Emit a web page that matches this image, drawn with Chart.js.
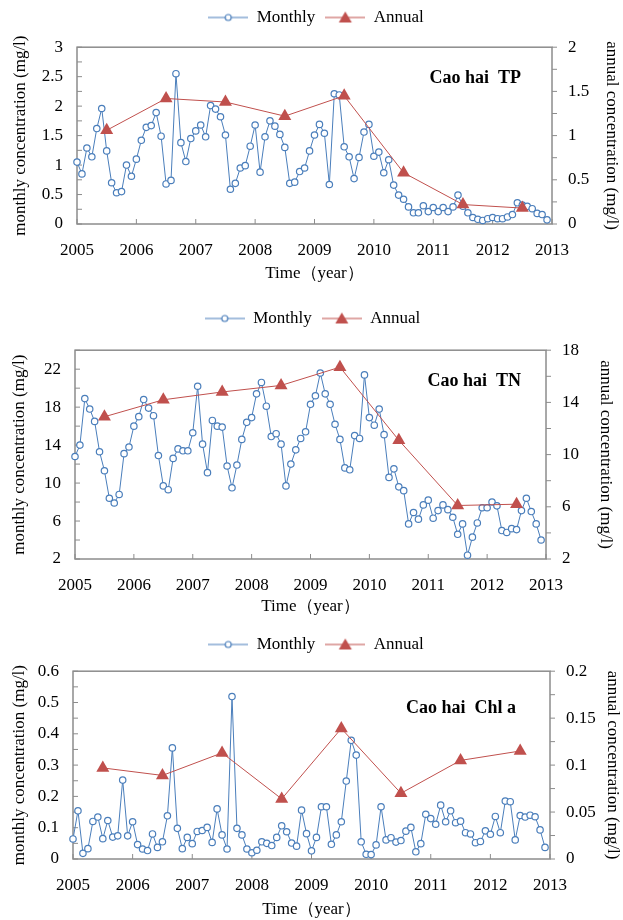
<!DOCTYPE html>
<html>
<head>
<meta charset="utf-8">
<script src="https://cdn.jsdelivr.net/npm/chart.js@4.4.1/dist/chart.umd.min.js"></script>
<style>
  html, body { margin: 0; padding: 0; background: #fff; overflow: hidden; width: 623px; height: 920px; }
  body { position: relative; }
  .box { position: absolute; left: 0; width: 640px; }
  #box1 { top: -1px; height: 289px; }
  #box2 { top: 300px; height: 321px; }
  #box3 { top: 626px; height: 298px; }
</style>
</head>
<body>
<div class="box" id="box1"><canvas id="tpChart"></canvas></div>
<div class="box" id="box2"><canvas id="tnChart"></canvas></div>
<div class="box" id="box3"><canvas id="chlChart"></canvas></div>
<script>
// Cao hai monitoring, monthly Jan 2005 - Dec 2012 + annual means
const startYear = 2005;
const years = [2005, 2006, 2007, 2008, 2009, 2010, 2011, 2012, 2013];
const annualYears = [2005.5, 2006.5, 2007.5, 2008.5, 2009.5, 2010.5, 2011.5, 2012.5];

// TP (mg/l)
const tpMonthly = [
    1.05, 0.85, 1.29, 1.14, 1.62, 1.96, 1.24, 0.70, 0.53, 0.55, 1.00, 0.81,
    1.10, 1.42, 1.64, 1.67, 1.89, 1.49, 0.68, 0.74, 2.55, 1.38, 1.06, 1.45,
    1.58, 1.68, 1.48, 2.01, 1.95, 1.82, 1.51, 0.59, 0.69, 0.95, 0.99, 1.32,
    1.68, 0.88, 1.48, 1.75, 1.66, 1.52, 1.30, 0.69, 0.71, 0.89, 0.95, 1.24,
    1.51, 1.69, 1.54, 0.67, 2.21, 2.19, 1.31, 1.14, 0.77, 1.13, 1.56, 1.69,
    1.15, 1.22, 0.87, 1.09, 0.66, 0.49, 0.42, 0.29, 0.19, 0.19, 0.31, 0.21,
    0.28, 0.21, 0.28, 0.21, 0.29, 0.49, 0.30, 0.19, 0.11, 0.08, 0.06, 0.09,
    0.11, 0.09, 0.09, 0.12, 0.16, 0.36, 0.32, 0.30, 0.26, 0.18, 0.16, 0.07
];
const tpAnnual = [1.06, 1.42, 1.38, 1.22, 1.45, 0.58, 0.22, 0.18];
const tpLeftTicks = [0, 0.5, 1, 1.5, 2, 2.5, 3];
const tpRightTicks = [0, 0.5, 1, 1.5, 2];

// TN (mg/l)
const tnMonthly = [
    12.8, 14.0, 18.9, 17.8, 16.5, 13.3, 11.3, 8.4, 7.9, 8.8, 13.1, 13.8,
    16.0, 17.0, 18.8, 17.9, 17.1, 12.9, 9.7, 9.3, 12.6, 13.6, 13.4, 13.4,
    15.3, 20.2, 14.1, 11.1, 16.6, 16.0, 15.9, 11.8, 9.5, 11.9, 14.6, 16.4,
    16.9, 19.4, 20.6, 18.1, 14.9, 15.2, 14.1, 9.7, 12.0, 13.5, 14.7, 15.4,
    18.3, 19.2, 21.6, 19.4, 18.3, 16.2, 14.6, 11.6, 11.4, 15.0, 14.7, 21.4,
    16.9, 16.1, 17.8, 15.1, 10.6, 11.5, 9.6, 9.2, 5.7, 6.9, 6.2, 7.7,
    8.2, 6.3, 7.1, 7.7, 7.2, 6.4, 4.6, 5.7, 2.4, 4.3, 5.8, 7.4,
    7.4, 8.0, 7.6, 5.0, 4.8, 5.2, 5.1, 7.1, 8.4, 7.0, 5.7, 4.0
];
const tnAnnual = [12.9, 14.2, 14.8, 15.3, 16.7, 11.1, 6.1, 6.2];
const tnLeftTicks = [2, 6, 10, 14, 18, 22];
const tnRightTicks = [2, 6, 10, 14, 18];

// Chl a (mg/l)
const chlMonthly = [
    0.064, 0.154, 0.018, 0.033, 0.120, 0.134, 0.065, 0.123, 0.070, 0.074, 0.252, 0.074,
    0.119, 0.046, 0.032, 0.027, 0.080, 0.037, 0.055, 0.138, 0.355, 0.098, 0.033, 0.069,
    0.049, 0.088, 0.091, 0.101, 0.053, 0.160, 0.077, 0.032, 0.519, 0.098, 0.077, 0.032,
    0.020, 0.028, 0.055, 0.050, 0.043, 0.069, 0.106, 0.087, 0.051, 0.041, 0.156, 0.081,
    0.026, 0.069, 0.167, 0.167, 0.047, 0.077, 0.119, 0.249, 0.379, 0.332, 0.055, 0.015,
    0.014, 0.045, 0.167, 0.061, 0.068, 0.054, 0.059, 0.089, 0.101, 0.023, 0.049, 0.143,
    0.129, 0.111, 0.172, 0.119, 0.154, 0.116, 0.121, 0.084, 0.080, 0.052, 0.056, 0.090,
    0.079, 0.136, 0.084, 0.185, 0.183, 0.061, 0.139, 0.134, 0.140, 0.135, 0.093, 0.037
];
const chlAnnual = [0.097, 0.089, 0.113, 0.064, 0.139, 0.070, 0.105, 0.115];
const chlLeftTicks = [0, 0.1, 0.2, 0.3, 0.4, 0.5, 0.6];
const chlRightTicks = [0, 0.05, 0.1, 0.15, 0.2];

const FONT = "'Times New Roman', 'Liberation Serif', serif";
const BLUE = '#4a7ebb';
const RED = '#c0504d';
const AXIS = '#8c8c8c';

// legend icons: short line with the marker in the middle (Excel style)
function legendIcon(color, marker) {
    const c = document.createElement('canvas');
    c.width = 40; c.height = 14;
    const g = c.getContext('2d');
    g.strokeStyle = color;
    g.lineWidth = 1.2;
    g.beginPath(); g.moveTo(0, 7); g.lineTo(40, 7); g.stroke();
    if (marker === 'circle') {
        g.fillStyle = '#fff';
        g.beginPath(); g.arc(20, 7, 3, 0, Math.PI * 2); g.fill(); g.stroke();
    } else {
        g.fillStyle = color;
        g.beginPath(); g.moveTo(20, 1); g.lineTo(26.5, 12); g.lineTo(13.5, 12); g.closePath(); g.fill();
    }
    return c;
}
const monthlyIcon = legendIcon(BLUE, 'circle');
const annualIcon = legendIcon(RED, 'triangle');

// plot frame, inner tick marks and the panel label
const framePlugin = {
    id: 'frame',
    beforeDatasetsDraw(chart, args, opts) {
        const { ctx, chartArea: a, scales } = chart;
        ctx.save();
        ctx.strokeStyle = AXIS;
        ctx.lineWidth = 1.5;
        ctx.strokeRect(a.left, a.top, a.right - a.left, a.bottom - a.top);
        ctx.lineWidth = 1;
        ctx.beginPath();
        years.forEach(v => {
            const px = scales.x.getPixelForValue(v);
            ctx.moveTo(px, a.bottom); ctx.lineTo(px, a.bottom - 5);
        });
        for (let k = 0; scales.y.min + k * opts.yMinor <= scales.y.max + 1e-9; k++) {
            const py = scales.y.getPixelForValue(scales.y.min + k * opts.yMinor);
            ctx.moveTo(a.left, py); ctx.lineTo(a.left + 5, py);
        }
        for (let k = 0; scales.y2.min + k * opts.y2Minor <= scales.y2.max + 1e-9; k++) {
            const py = scales.y2.getPixelForValue(scales.y2.min + k * opts.y2Minor);
            ctx.moveTo(a.right, py); ctx.lineTo(a.right + 5, py);
        }
        ctx.stroke();
        ctx.restore();
    },
    afterDatasetsDraw(chart, args, opts) {
        const { ctx, chartArea: a } = chart;
        ctx.save();
        ctx.font = 'bold 18px ' + FONT;
        ctx.fillStyle = '#000';
        ctx.textAlign = 'right';
        ctx.textBaseline = 'alphabetic';
        ctx.fillText(opts.label, a.right - opts.dx, a.top + opts.dy);
        ctx.restore();
    }
};

function tickList(values) {
    return s => { s.ticks = values.map(v => ({ value: v })); };
}

function makeChart(id, p) {
    const font = { family: FONT, size: 17 };
    return new Chart(document.getElementById(id), {
        type: 'line',
        data: {
            datasets: [{
                label: 'Monthly',
                data: p.monthly.map((v, i) => ({ x: startYear + i / 12, y: v })),
                yAxisID: 'y',
                borderColor: BLUE,
                borderWidth: 1,
                pointRadius: 3.2,
                pointBorderWidth: 1.2,
                pointBackgroundColor: '#fff',
                pointBorderColor: BLUE,
                clip: false,
                order: 2
            }, {
                label: 'Annual',
                data: p.annual.map((v, i) => ({ x: annualYears[i], y: v })),
                yAxisID: 'y2',
                borderColor: RED,
                borderWidth: 1,
                pointStyle: 'triangle',
                pointRadius: 7.5,
                pointBackgroundColor: RED,
                pointBorderColor: RED,
                pointBorderWidth: 0,
                clip: false,
                order: 1
            }]
        },
        options: {
            responsive: true,
            maintainAspectRatio: false,
            animation: false,
            layout: { padding: { top: 0, left: p.padLeft, right: p.padRight, bottom: 0 } },
            plugins: {
                tooltip: { enabled: false },
                legend: {
                    position: 'top',
                    labels: {
                        usePointStyle: true,
                        pointStyleWidth: 40,
                        padding: 10,
                        color: '#000',
                        font: font,
                        generateLabels: () => [
                            { text: 'Monthly', pointStyle: monthlyIcon, datasetIndex: 0, fontColor: '#000', lineWidth: 0 },
                            { text: 'Annual', pointStyle: annualIcon, datasetIndex: 1, fontColor: '#000', lineWidth: 0 }
                        ]
                    }
                },
                // empty title used as a gap between legend and plot
                title: { display: true, text: ' ', weight: 500, font: { size: 1 }, padding: { top: 0, bottom: p.gap } },
                frame: { label: p.label, dx: p.labelDx, dy: p.labelDy, yMinor: p.yMinor, y2Minor: p.y2Minor }
            },
            scales: {
                x: {
                    type: 'linear',
                    min: years[0],
                    max: years[years.length - 1],
                    afterBuildTicks: tickList(years),
                    afterFit: s => { s.height = p.xHeight; },
                    grid: { display: false, drawTicks: false },
                    border: { display: false },
                    ticks: { color: '#000', font: font, padding: 16, maxRotation: 0, callback: v => String(v) },
                    title: { display: true, text: 'Time（year）', color: '#000', font: font, padding: { top: 4, bottom: 4 } }
                },
                y: {
                    position: 'left',
                    min: p.leftTicks[0],
                    max: p.leftMax,
                    afterBuildTicks: tickList(p.leftTicks),
                    afterFit: s => { s.width = p.leftWidth; },
                    grid: { display: false, drawTicks: false },
                    border: { display: false },
                    ticks: { color: '#000', font: font, padding: 14, callback: v => String(v) },
                    title: { display: true, text: 'monthly concentration (mg/l)', color: '#000', font: font, padding: 4 }
                },
                y2: {
                    position: 'right',
                    min: p.rightTicks[0],
                    max: p.rightTicks[p.rightTicks.length - 1],
                    afterBuildTicks: tickList(p.rightTicks),
                    afterFit: s => { s.width = p.rightWidth; },
                    grid: { display: false, drawTicks: false },
                    border: { display: false },
                    ticks: { color: '#000', font: font, padding: 16, callback: v => String(v) },
                    title: { display: true, text: 'annual concentration (mg/l)', color: '#000', font: font, padding: 4 }
                }
            }
        },
        plugins: [framePlugin]
    });
}

makeChart('tpChart', {
    monthly: tpMonthly, annual: tpAnnual,
    leftTicks: tpLeftTicks, leftMax: 3, rightTicks: tpRightTicks,
    yMinor: 0.25, y2Minor: 0.25, gap: 10,
    padLeft: 6, padRight: 14, leftWidth: 71, rightWidth: 74, xHeight: 64,
    label: 'Cao hai  TP', labelDx: 31, labelDy: 36
});

makeChart('tnChart', {
    monthly: tnMonthly, annual: tnAnnual,
    leftTicks: tnLeftTicks, leftMax: 24, rightTicks: tnRightTicks,
    yMinor: 2, y2Minor: 2, gap: 12,
    padLeft: 5, padRight: 20, leftWidth: 70, rightWidth: 74, xHeight: 62,
    label: 'Cao hai  TN', labelDx: 25, labelDy: 36
});

makeChart('chlChart', {
    monthly: chlMonthly, annual: chlAnnual,
    leftTicks: chlLeftTicks, leftMax: 0.6, rightTicks: chlRightTicks,
    yMinor: 0.05, y2Minor: 0.025, gap: 7,
    padLeft: 5, padRight: 13, leftWidth: 68, rightWidth: 77, xHeight: 65,
    label: 'Cao hai  Chl a', labelDx: 34, labelDy: 42
});
</script>
</body>
</html>
